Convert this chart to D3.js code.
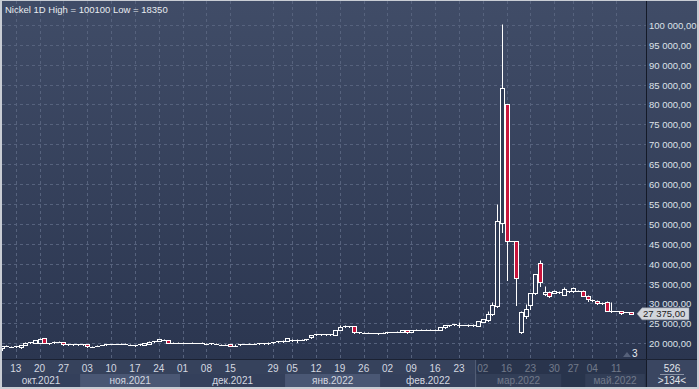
<!DOCTYPE html>
<html><head><meta charset="utf-8">
<script src="https://cdn.jsdelivr.net/npm/d3@7"></script>
<style>
html,body{margin:0;padding:0;background:#c9cdd4;}
svg{display:block;font-family:"Liberation Sans",Arial,sans-serif;}
</style></head><body>
<svg id="c" width="699" height="389"></svg>
<script>
// ---- data ----
const opens = [18700,19300,19250,19150,18950,19550,20150,20100,20100,21200,20050,20000,20350,20300,19700,19750,19700,19700,19800,19200,
19350,19500,19500,19750,19780,19850,19900,19700,19550,19500,19600,19900,20400,20600,20900,20750,20150,20170,20100,20100,
20050,20100,20100,20000,19950,19900,19700,19700,19700,19650,19700,19780,19800,19850,19900,19800,19900,20150,20250,20450,
20600,20900,20500,20850,20950,21450,22200,22150,22250,22200,22150,23280,24150,24300,24200,22700,22700,22650,22550,22500,
22550,22700,22800,22850,22800,23300,22800,23300,23350,23350,23300,23350,23350,23950,24500,24650,24700,24550,24500,24500,
24300,25400,25800,27300,29250,50300,80000,45600,45600,22700,26900,29600,32500,40100,32300,32900,32600,32800,32150,33000,
33000,33200,33150,31900,30800,30650,30200,30400,28100,28100,28100,27850,27850];
const highs = [19400,19500,19300,19300,19650,20400,20350,20850,21250,21300,20150,20450,20450,20400,19850,19850,19800,19850,19850,19300,
19500,19550,19800,19800,19820,20050,19950,19750,19600,19800,20050,20450,20600,21100,21000,20800,20250,20250,20200,20150,
20200,20150,20200,20100,20050,19950,19800,19800,19750,19700,19850,19900,19950,19950,20000,20100,20200,20350,20550,20700,
21250,21000,20950,20950,21050,22100,22400,22350,22400,22350,23350,24600,24450,24400,24300,22850,22800,22750,22650,22600,
22750,22800,22900,22950,23400,23350,23400,23500,23450,23500,23450,23500,24000,24600,24650,24900,25300,24650,24700,24700,
25600,26200,28030,30300,55100,100100,80000,45600,45600,28000,29800,32550,37500,40950,34250,33100,33300,33100,34100,33200,
34000,33300,33250,32000,31100,30800,30400,30500,30300,28200,28150,27950,27900];
const lows = [18350,19200,19100,19050,18900,19500,20050,20000,20000,19950,19900,19950,20250,19600,19600,19600,19550,19600,19150,19100,
19300,19450,19450,19700,19700,19800,19750,19500,19350,19450,19550,19850,20300,20550,20700,19950,20100,20100,20000,20000,
20000,19950,20050,19800,19900,19700,19550,19550,19300,19250,19600,19700,19750,19800,19850,19750,19850,20100,20200,20400,
20550,20650,20400,20800,20900,21400,22100,22050,22150,22100,22050,23200,24050,24150,22600,22550,22600,22550,22450,22400,
22450,22600,22700,22750,22750,22650,22750,23200,23250,23250,23200,23250,23300,23900,24400,24500,24150,24450,24300,24350,
24200,25300,25700,27200,29000,48000,35900,45600,29500,22600,26400,28700,32300,34400,32200,31700,32500,32500,32000,32800,
32900,33050,31800,30500,30500,29900,29950,28000,27800,28000,27450,27750,27300];
const closes = [19300,19350,19170,19200,19550,20150,20200,20750,21150,20000,20000,20400,20330,19700,19750,19720,19680,19750,19200,19170,
19420,19520,19750,19780,19750,19920,19800,19600,19450,19750,20000,20400,20450,21000,20800,20000,20170,20150,20100,20050,
20150,20050,20170,19920,20000,19830,19670,19670,19350,19300,19780,19800,19850,19900,19950,20050,20150,20250,20450,20600,
21200,20750,20850,20870,21000,22050,22270,22200,22270,22250,23280,24100,24350,24250,22700,22700,22680,22620,22530,22480,
22650,22750,22850,22870,23350,22700,23300,23350,23380,23400,23350,23400,23950,24530,24550,24780,24650,24500,24550,24550,
25500,26050,27280,29540,50800,84200,45600,45600,36300,27950,28550,32500,37350,35500,32900,31900,33150,32750,33600,33050,
33800,33150,31900,31000,30850,30000,30200,28100,28200,28120,27500,27850,27375];
const priceTicks = [20000,25000,30000,35000,40000,45000,50000,55000,60000,65000,70000,75000,80000,85000,90000,95000,100000];
const dayTickIndex = [3,8,13,18,23,28,33,38,43,48,57,61,66,71,76,81,86,91,96,101,106,111,116,120,124,129];
const dayTickLabels = ["13","20","27","03","10","17","24","01","08","15","29","05","12","19","26","02","09","16","23","02","16","23","30","27","04","11"];
const monthLabels = ["окт.2021","ноя.2021","дек.2021","янв.2022","фев.2022","мар.2022","","май.2022"];
const monthEdges = [-1, 16.5, 37.5, 59.5, 79.5, 99.5, 117.5, 122.5, 135];
const title = "Nickel 1D High = 100100 Low = 18350";
const lastPrice = 27375;

// ---- layout ----
const W = 699, H = 389;
const plot = {l: 2, t: 1, r: 646, b: 359};
const svg = d3.select("#c");
const fmt = v => d3.format(",.2f")(v).replace(/,/g, " ").replace(".", ",");

const defs = svg.append("defs");
const grad = defs.append("linearGradient").attr("id","bg").attr("x1",0).attr("y1",0).attr("x2",0).attr("y2",1);
grad.append("stop").attr("offset","0%").attr("stop-color","#404c67");
grad.append("stop").attr("offset","100%").attr("stop-color","#2b3650");
defs.append("clipPath").attr("id","pc").append("rect")
  .attr("x",plot.l).attr("y",plot.t).attr("width",plot.r-plot.l).attr("height",plot.b-plot.t);

// frame
svg.append("rect").attr("x",0).attr("y",0).attr("width",W).attr("height",H).attr("fill","#c9cdd4");
svg.append("rect").attr("x",plot.l).attr("y",plot.t).attr("width",697-plot.l).attr("height",plot.b-plot.t).attr("fill","url(#bg)");

const x = d3.scaleLinear().domain([0, opens.length-1]).range([1.5, 630.5]);
const y = d3.scaleLinear().domain([20000, 100000]).range([343.2, 24.8]);
const cx = i => Math.round(x(i)) + 0.5;
const cy = v => Math.round(y(v)) + 0.5;

// grid
const grid = svg.append("g").attr("clip-path","url(#pc)")
  .attr("stroke","#56627d").attr("stroke-dasharray","3,3").attr("stroke-width",1);
grid.selectAll("line.h").data(priceTicks).join("line")
  .attr("x1",plot.l).attr("x2",plot.r).attr("y1",d=>cy(d)).attr("y2",d=>cy(d));
grid.selectAll("line.v").data(dayTickIndex).join("line")
  .attr("x1",d=>cx(d)).attr("x2",d=>cx(d)).attr("y1",plot.t).attr("y2",plot.b);

// candles
const data = d3.range(opens.length).map(i => ({i, o: opens[i], h: highs[i], l: lows[i], c: closes[i]}));
const cg = svg.append("g").attr("clip-path","url(#pc)");
cg.selectAll("line.wick").data(data).join("line")
  .attr("x1",d=>cx(d.i)).attr("x2",d=>cx(d.i))
  .attr("y1",d=>cy(d.h)).attr("y2",d=>cy(d.l)+0.5)
  .attr("stroke","#ffffff").attr("stroke-width",1);
const bodies = data.filter(d => Math.abs(cy(d.o)-cy(d.c)) >= 2);
const flats = data.filter(d => Math.abs(cy(d.o)-cy(d.c)) < 2);
cg.selectAll("rect.body").data(bodies).join("rect")
  .attr("x",d=>cx(d.i)-2).attr("width",4)
  .attr("y",d=>Math.min(cy(d.o),cy(d.c))).attr("height",d=>Math.abs(cy(d.o)-cy(d.c)))
  .attr("fill",d=>d.c < d.o ? "#c8143c" : "#2f3b55")
  .attr("stroke","#ffffff").attr("stroke-width",1);
cg.selectAll("line.flat").data(flats).join("line")
  .attr("x1",d=>cx(d.i)-2.5).attr("x2",d=>cx(d.i)+2.5)
  .attr("y1",d=>cy(d.c)).attr("y2",d=>cy(d.c))
  .attr("stroke","#ffffff").attr("stroke-width",1);

// separators
svg.append("line").attr("x1",plot.r+0.5).attr("x2",plot.r+0.5).attr("y1",plot.t).attr("y2",387).attr("stroke","#141a28");
svg.append("line").attr("x1",plot.l).attr("x2",697).attr("y1",plot.b+0.5).attr("y2",plot.b+0.5).attr("stroke","#1b2233");

// title
svg.append("text").attr("x",5).attr("y",13).attr("fill","#e8ebf0").attr("font-size",9.5).text(title);

// right axis labels
svg.append("g").selectAll("text").data(priceTicks).join("text")
  .attr("x",649).attr("y",d=>y(d)+4).attr("fill","#dde1e8").attr("font-size",9.5).text(d=>fmt(d));

// last price marker
const ly = y(lastPrice);
svg.append("path")
  .attr("d",`M637,${ly} L642,${ly-6} L689,${ly-6} L689,${ly+6} L642,${ly+6} Z`)
  .attr("fill","#d2d6dc").attr("stroke","#8a909c").attr("stroke-width",0.5);
svg.append("text").attr("x",643).attr("y",ly+3.5).attr("fill","#222").attr("font-size",9.5).text(fmt(lastPrice));

// "3" marker
svg.append("path").attr("d","M623,357 L627,352 L631,357 Z").attr("fill","#56617a");
svg.append("text").attr("x",632).attr("y",357).attr("fill","#e8ebf0").attr("font-size",10).text("3");

// bottom axis
const ax = svg.append("g");
ax.append("rect").attr("x",plot.l).attr("y",360).attr("width",plot.r-plot.l).attr("height",27).attr("fill","#36425c");
const bands = monthLabels.map((m,k)=>({m, a: Math.max(plot.l, x(monthEdges[k])), b: Math.min(plot.r, x(monthEdges[k+1])), k}));
ax.selectAll("rect.band").data(bands).join("rect")
  .attr("x",d=>d.a).attr("y",374).attr("width",d=>d.b-d.a).attr("height",13)
  .attr("fill",d=>d.k%2 ? "#4a5774" : "#34405b");
ax.selectAll("text.day").data(dayTickIndex).join("text")
  .attr("x",d=>x(d)).attr("y",372).attr("text-anchor","middle")
  .attr("fill","#d4d8e0").attr("font-size",10).text((d,k)=>dayTickLabels[k]);
ax.selectAll("text.mon").data(bands).join("text")
  .attr("x",d=>(d.a+d.b)/2).attr("y",384).attr("text-anchor","middle")
  .attr("fill","#d4d8e0").attr("font-size",10).text(d=>d.m);
// dimmed region overlay
const ovx = x(99.5);
ax.append("rect").attr("x",ovx).attr("y",360).attr("width",plot.r-ovx).attr("height",27)
  .attr("fill","#1f2a40").attr("opacity",0.55);
ax.append("line").attr("x1",ovx).attr("x2",ovx).attr("y1",360).attr("y2",387).attr("stroke","#56627a");

// bottom-right box
svg.append("rect").attr("x",plot.r+1).attr("y",360).attr("width",697-plot.r-1).attr("height",27).attr("fill","#3a4661");
svg.append("text").attr("x",672).attr("y",372).attr("text-anchor","middle").attr("fill","#e0e4ea").attr("font-size",10).text("526");
svg.append("line").attr("x1",660).attr("x2",684).attr("y1",374.5).attr("y2",374.5).attr("stroke","#8a93a6");
svg.append("text").attr("x",672).attr("y",384).attr("text-anchor","middle").attr("fill","#e0e4ea").attr("font-size",10).text(">134<");
</script></body></html>
